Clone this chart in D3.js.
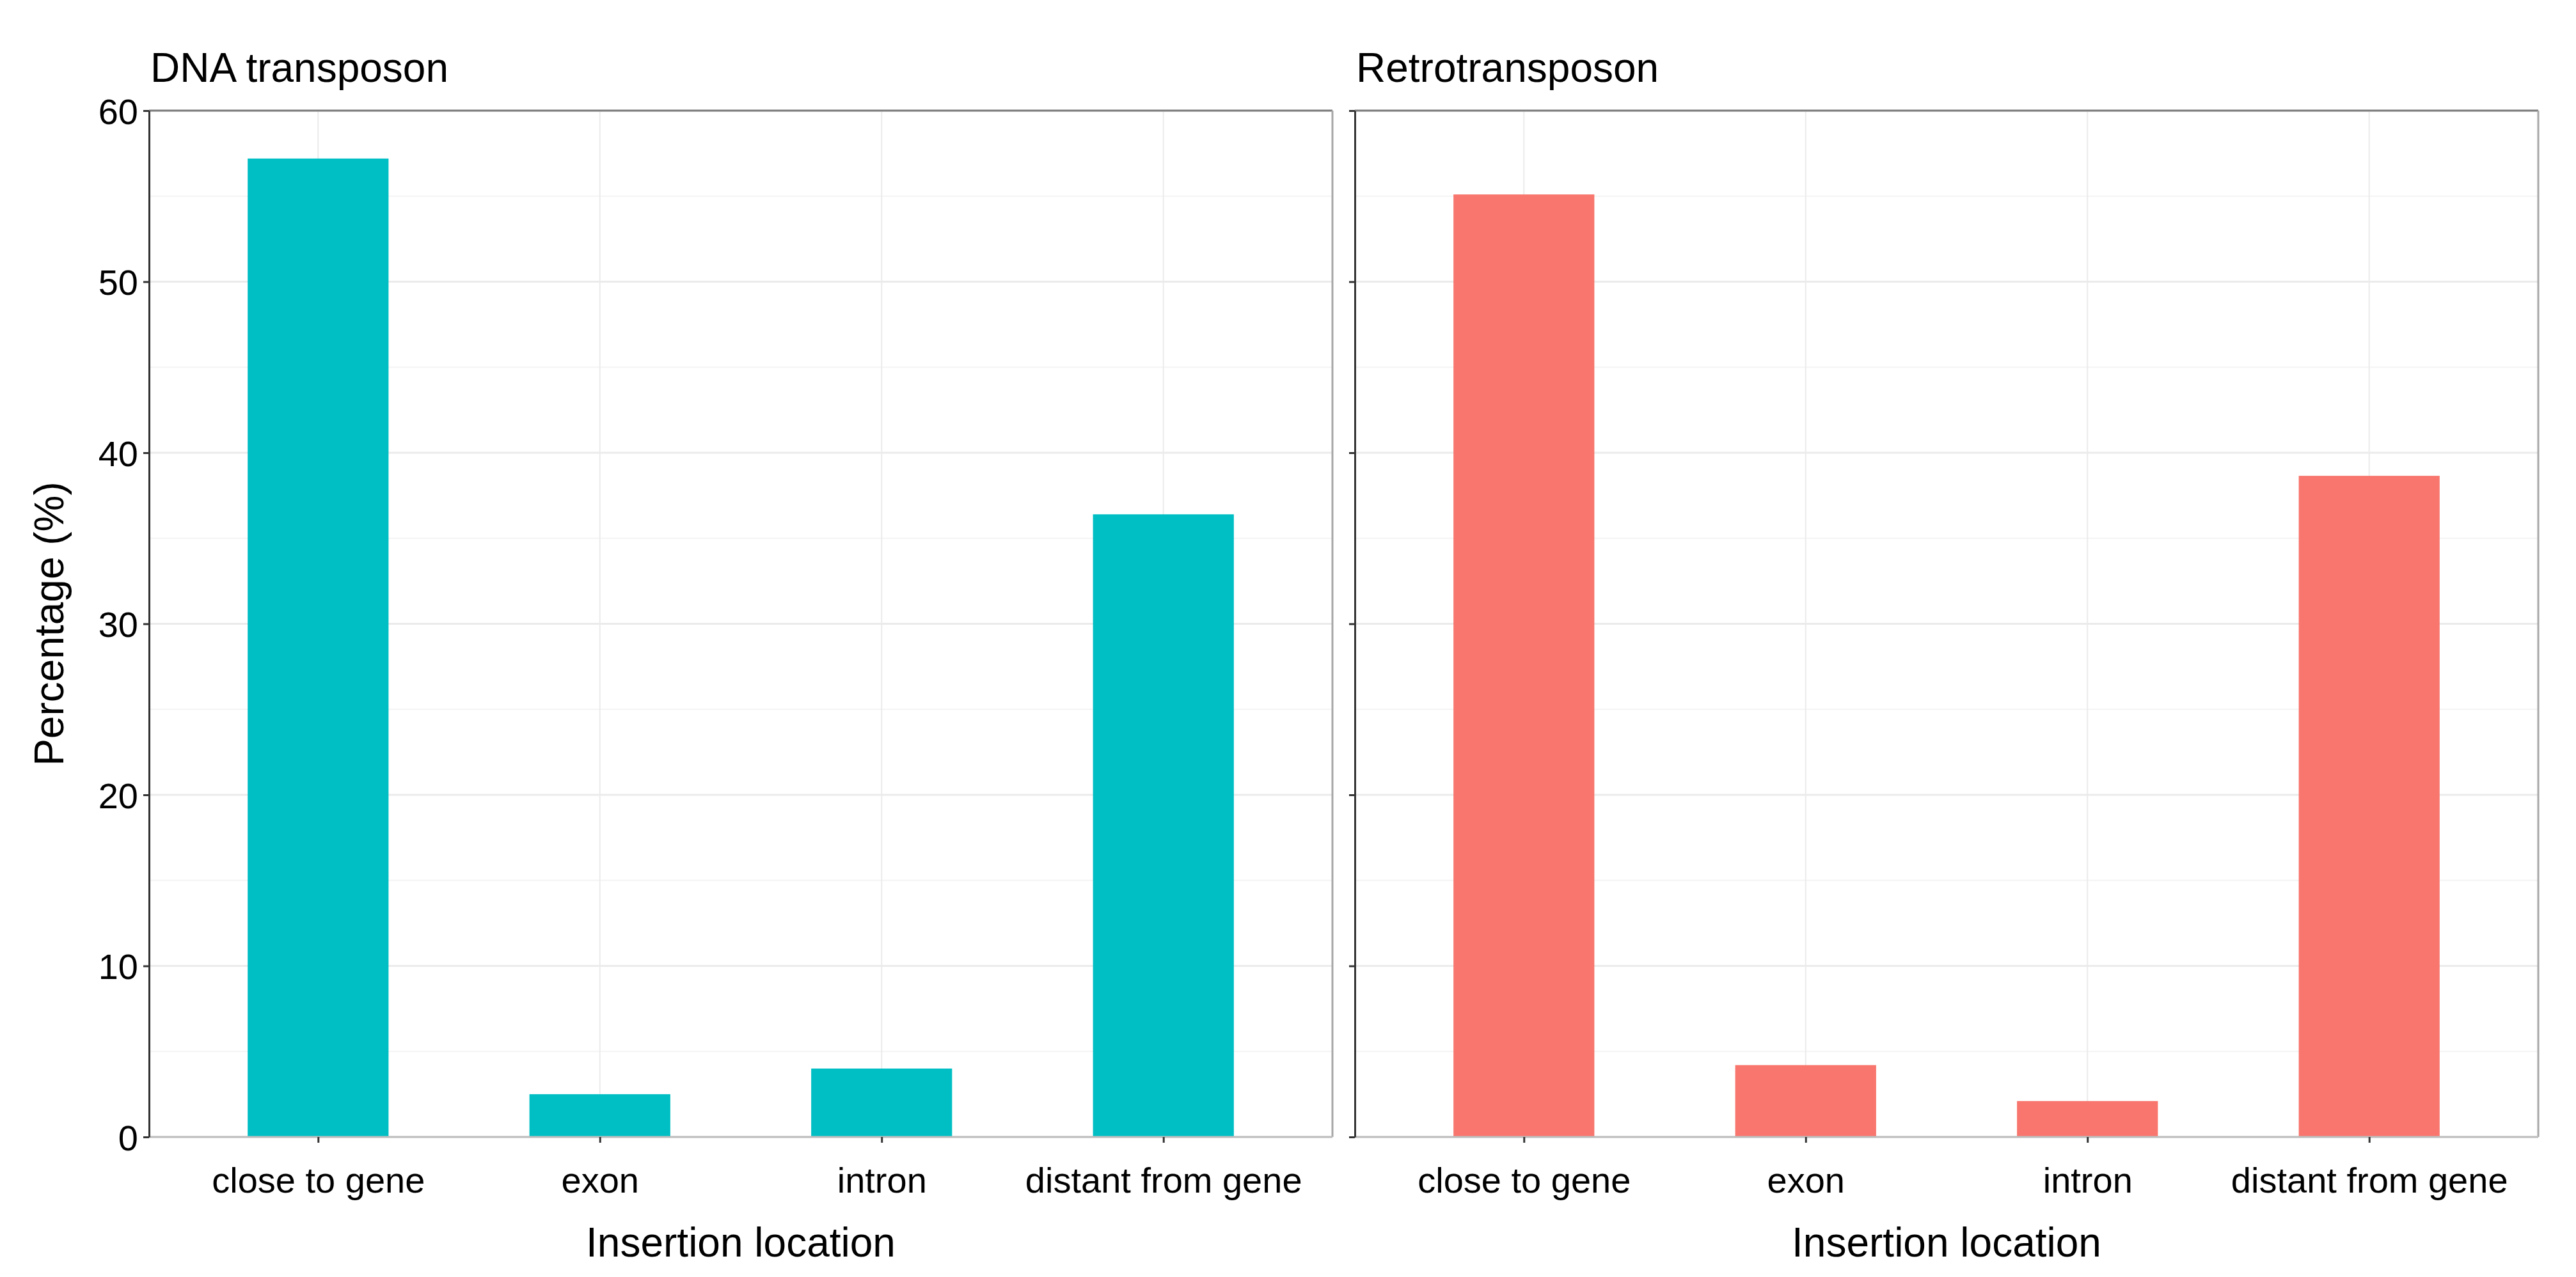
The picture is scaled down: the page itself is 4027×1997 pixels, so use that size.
<!DOCTYPE html>
<html>
<head>
<meta charset="utf-8">
<script src="https://cdn.jsdelivr.net/npm/d3@7"></script>
<style>
  html, body { margin: 0; padding: 0; background: #fff; }
  svg { display: block; }
  text { font-family: "Liberation Sans", Arial, sans-serif; fill: #000; }
</style>
</head>
<body>
<svg id="chart" width="4027" height="1997"></svg>
<script>
// ---- data ----
const categories = ["close to gene", "exon", "intron", "distant from gene"];
const panelTitles = ["DNA transposon", "Retrotransposon"];
const dnaValues = [57.2, 2.5, 4.0, 36.4];
const retroValues = [55.1, 4.2, 2.1, 38.65];
const panelColors = ["#00BFC4", "#F8766D"];
const yTicks = [0, 10, 20, 30, 40, 50, 60];
const yMinorTicks = [5, 15, 25, 35, 45, 55];
const xTitle = "Insertion location";
const yTitle = "Percentage (%)";

// ---- layout ----
const svg = d3.select("#chart");
const W = 4027, H = 1997;
svg.append("rect").attr("width", W).attr("height", H).attr("fill", "#fff");

const panelTop = 173, panelBottom = 1778;
const panels = [
  { x0: 233, x1: 2083, values: dnaValues, color: panelColors[0], title: panelTitles[0], labels: true },
  { x0: 2118, x1: 3968, values: retroValues, color: panelColors[1], title: panelTitles[1], labels: false }
];

const y = d3.scaleLinear().domain([0, 60]).range([panelBottom, panelTop]);

panels.forEach(p => {
  const g = svg.append("g");
  const x = d3.scalePoint().domain(categories).range([p.x0, p.x1]).padding(0.6);
  const barW = x.step() * 0.5;

  // minor gridlines
  g.selectAll(".minor").data(yMinorTicks).enter().append("line")
    .attr("x1", p.x0).attr("x2", p.x1)
    .attr("y1", d => y(d)).attr("y2", d => y(d))
    .attr("stroke", "#f4f4f4").attr("stroke-width", 2);
  // major gridlines
  g.selectAll(".major").data(yTicks).enter().append("line")
    .attr("x1", p.x0).attr("x2", p.x1)
    .attr("y1", d => y(d)).attr("y2", d => y(d))
    .attr("stroke", "#ebebeb").attr("stroke-width", 3);
  // vertical gridlines
  g.selectAll(".vgrid").data(categories).enter().append("line")
    .attr("x1", d => x(d)).attr("x2", d => x(d))
    .attr("y1", panelTop).attr("y2", panelBottom)
    .attr("stroke", "#ebebeb").attr("stroke-width", 2);

  // bars
  g.selectAll(".bar").data(categories).enter().append("rect")
    .attr("x", d => x(d) - barW / 2)
    .attr("width", barW)
    .attr("y", (d, i) => y(p.values[i]))
    .attr("height", (d, i) => y(0) - y(p.values[i]))
    .attr("fill", p.color);

  // panel border
  g.append("line").attr("x1", p.x0).attr("x2", p.x1).attr("y1", panelTop).attr("y2", panelTop)
    .attr("stroke", "#7a7a7a").attr("stroke-width", 3);
  g.append("line").attr("x1", p.x1).attr("x2", p.x1).attr("y1", panelTop).attr("y2", panelBottom)
    .attr("stroke", "#a8a8a8").attr("stroke-width", 3);
  g.append("line").attr("x1", p.x0).attr("x2", p.x1).attr("y1", panelBottom).attr("y2", panelBottom)
    .attr("stroke", "#bdbdbd").attr("stroke-width", 3);

  // y axis
  const yAxis = d3.axisLeft(y).tickValues(yTicks).tickSize(9).tickSizeOuter(0)
    .tickFormat(p.labels ? d3.format("d") : () => "");
  const ya = g.append("g").attr("transform", `translate(${p.x0},0)`).call(yAxis);
  ya.select(".domain").attr("stroke", "#333").attr("stroke-width", 3);
  ya.selectAll(".tick line").attr("stroke", "#333").attr("stroke-width", 3);
  ya.selectAll(".tick text").attr("x", -17).attr("dy", "0.36em")
    .style("font-size", "56px").style("font-family", "'Liberation Sans', Arial, sans-serif").attr("fill", "#000");

  // x axis
  const xAxis = d3.axisBottom(x).tickSize(9).tickSizeOuter(0);
  const xa = g.append("g").attr("transform", `translate(0,${panelBottom})`).call(xAxis);
  xa.select(".domain").remove();
  xa.selectAll(".tick line").attr("stroke", "#333").attr("stroke-width", 3);
  xa.selectAll(".tick text").attr("y", 87).attr("dy", 0)
    .style("font-size", "56px").style("font-family", "'Liberation Sans', Arial, sans-serif").attr("fill", "#000");

  // x axis title
  g.append("text").attr("x", (p.x0 + p.x1) / 2).attr("y", 1965)
    .attr("text-anchor", "middle").style("font-size", "64px").text(xTitle);

  // panel title
  g.append("text").attr("x", p.x0 + 2).attr("y", 128)
    .attr("text-anchor", "start").style("font-size", "64px").text(p.title);
});

// y axis title
svg.append("text")
  .attr("transform", `translate(99,${(panelTop + panelBottom) / 2}) rotate(-90)`)
  .attr("text-anchor", "middle").style("font-size", "64px").text(yTitle);
</script>
</body>
</html>
